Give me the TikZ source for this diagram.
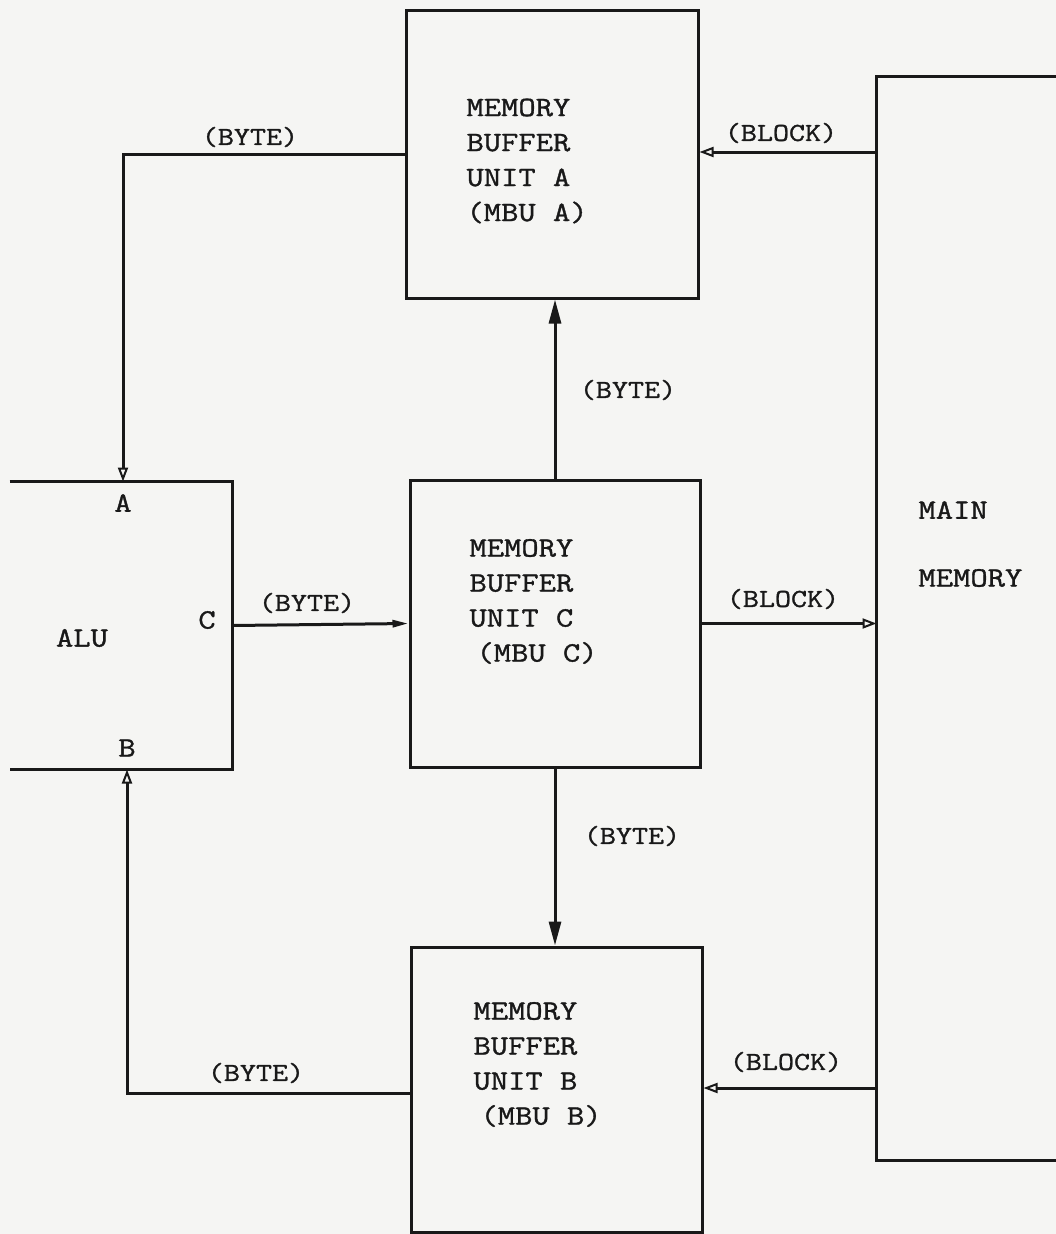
\documentclass[tikz,border=0pt]{standalone}
\usepackage{fontspec}
\setmonofont{Latin Modern Mono}[FakeStretch=1.2,FakeBold=1.2]
\usetikzlibrary{arrows.meta,calc}
\definecolor{paper}{RGB}{245,245,243}
\definecolor{ink}{RGB}{25,25,25}
\begin{document}
\begin{tikzpicture}[x=1pt,y=-1pt,
  line width=3pt, draw=ink,
  box/.style={draw=ink, rectangle, inner sep=0pt},
  hidden/.style={draw=none, rectangle, inner sep=0pt},
  boxtext/.style={anchor=west, align=left, inner sep=0pt, text=ink,
    font=\ttfamily\fontsize{28}{35}\selectfont},
  lbl/.style={inner sep=0pt, text=ink, font=\ttfamily\fontsize{26}{32}\selectfont},
  big/.style={font=\ttfamily\fontsize{28}{35}\selectfont},
  solidtip/.style={-{Triangle[length=24pt,width=12pt]}},
  opentip/.style={-{Triangle[open,length=14pt,width=10pt,line width=2pt]}},
  thintip/.style={-{Triangle[length=16pt,width=7pt]}}
]
\fill[paper] (0,0) rectangle (1056,1234);
\useasboundingbox (0,0) rectangle (1056,1234);

% boxes
\node[box, minimum width=292pt, minimum height=288pt] (mbuA) at (552,154) {};
\node[box, minimum width=290pt, minimum height=287pt] (mbuC) at (555,623.5) {};
\node[box, minimum width=291pt, minimum height=285pt] (mbuB) at (556.5,1089.5) {};
\node[hidden, minimum width=220pt, minimum height=285pt] (alu) at (121,625.5) {};
\node[hidden, minimum width=200pt, minimum height=1081pt] (mm) at (978,618.5) {};

% ALU open box (left side open)
\draw (alu.north west) -- (alu.north east) -- (alu.south east) -- (alu.south west);
% main memory (right side cut off)
\draw (mm.north east) -- (mm.north west) -- (mm.south west) -- (mm.south east);

% box texts
\node[boxtext] (tA) at (465,161) {MEMORY\\BUFFER\\UNIT A\\(MBU A)};
\node[boxtext] (tC) at (468,601.5) {MEMORY\\BUFFER\\UNIT C\\\hspace{7pt}(MBU C)};
\node[boxtext] (tB) at (472,1064.5) {MEMORY\\BUFFER\\UNIT B\\\hspace{7pt}(MBU B)};
\node[lbl, big] (alut) at (82,638) {ALU};
\node[lbl, big, anchor=west] (mainL) at (917,510) {MAIN};
\node[lbl, big, anchor=west] (memL) at (917,578) {MEMORY};
\node[lbl, big] (portA) at (123,503) {A};
\node[lbl, big] (portB) at (127,748) {B};
\node[lbl, big] (portC) at (207,620) {C};

% ports on ALU
\coordinate (aIn) at (alu.north west -| 123,0);
\coordinate (bIn) at (alu.south west -| 127,0);

% connectors
\draw[opentip] (mbuA.west) -| (aIn);
\draw[opentip] ([yshift=-3.5pt]mbuB.west) -| (bIn);
\draw[thintip] (alu.east) -- (mbuC.west);
\draw[opentip] (mbuC.east) -- (mbuC.east -| mm.west);
\draw[solidtip] (mbuC.north) -- (mbuC.north |- mbuA.south);
\draw[solidtip] (mbuC.south) -- (mbuC.south |- mbuB.north);
\draw[opentip] (mm.west |- 0,152) -- (mbuA.east |- 0,152);
\draw[opentip] (mm.west |- 0,1088) -- (mbuB.east |- 0,1088);

% connector labels
\node[lbl] (l1) at (250,137) {(BYTE)};
\node[lbl] (l2) at (781,133) {(BLOCK)};
\node[lbl] (l3) at (628,390) {(BYTE)};
\node[lbl] (l4) at (307,603) {(BYTE)};
\node[lbl] (l5) at (783,599) {(BLOCK)};
\node[lbl] (l6) at (632,836) {(BYTE)};
\node[lbl] (l7) at (256,1073) {(BYTE)};
\node[lbl] (l8) at (786,1062) {(BLOCK)};
\end{tikzpicture}
\end{document}
